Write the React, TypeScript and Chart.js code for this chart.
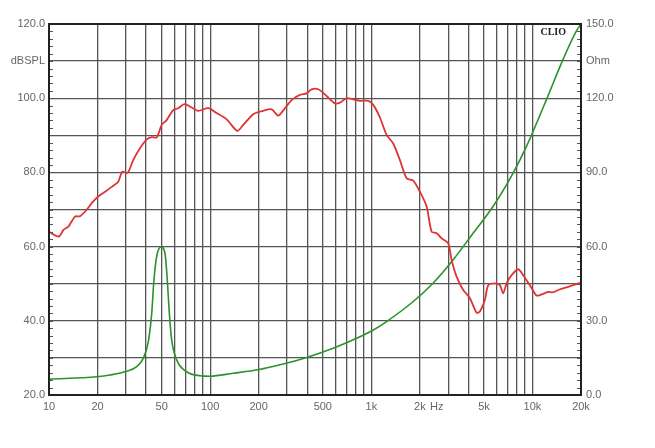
import React, { useEffect, useRef } from "react";
import { Chart, registerables } from "chart.js";
Chart.register(...registerables);

// SPL response (left axis, dB)
const splFreq = [10, 11.5, 12.3, 13.2, 14.5, 15.6, 17.1, 18.4, 20.2, 22.3, 24.5, 26.9, 28.5, 30.8, 33.3, 36.7, 40.4, 43.4, 46.6, 50, 53.7, 59, 63.4, 69.1, 76.8, 84.4, 97.3, 109.7, 126.6, 147.3, 160.5, 185.1, 213.5, 240.7, 264.5, 291.1, 320.3, 360.6, 396.8, 426.2, 468.5, 528, 594.6, 638.7, 702.9, 772.3, 850.2, 957, 1028, 1131, 1244, 1367, 1505, 1656, 1820, 2002, 2203, 2367, 2542, 2730, 3000, 3149, 3382, 3717, 4090, 4500, 4718, 5066, 5311, 5845, 6278, 6580, 6908, 7418, 8154, 8756, 9636, 10603, 11390, 12514, 13440, 14791, 16280, 17880, 20000];
const splDb = [64.0, 62.7, 64.5, 65.4, 68.1, 68.2, 69.9, 71.7, 73.5, 74.8, 76.1, 77.5, 80.2, 79.9, 83.3, 86.5, 88.9, 89.5, 89.4, 92.8, 94.1, 96.8, 97.3, 98.4, 97.5, 96.6, 97.3, 96.0, 94.3, 91.2, 92.8, 95.7, 96.6, 97.0, 95.3, 97.3, 99.5, 100.9, 101.3, 102.4, 102.4, 100.6, 98.6, 98.8, 100.0, 99.7, 99.3, 99.3, 98.2, 94.8, 90.1, 87.8, 83.3, 78.4, 77.8, 74.8, 70.8, 64.0, 63.6, 62.2, 60.9, 56.4, 51.9, 48.3, 46.1, 42.2, 42.5, 45.6, 49.6, 50.1, 49.6, 47.4, 50.1, 52.3, 53.9, 52.3, 49.6, 46.8, 47.1, 47.8, 47.7, 48.5, 49.0, 49.6, 50.3];

// Impedance (right axis, Ohm)
const impFreq = [10, 19.8, 23.9, 30.3, 35.0, 38.5, 41.3, 43.4, 44.8, 46.6, 49.5, 52.4, 54.2, 55.8, 57.7, 62.0, 71.5, 86.5, 99.7, 139, 198, 284, 397, 580, 772, 1028, 1244, 1820, 2421, 3221, 4288, 5705, 7591, 9192, 12233, 15504, 18775, 20000];
const impOhm = [6.4, 7.4, 8.1, 9.6, 11.5, 14.9, 21.5, 33.1, 46.6, 56.1, 59.9, 57.4, 46.6, 33.1, 22.3, 14.2, 9.4, 7.8, 7.6, 8.8, 10.2, 12.5, 15.2, 18.9, 22.3, 26.3, 29.7, 37.8, 45.3, 54.7, 65.5, 76.3, 89.8, 100.6, 119.6, 135.8, 147.3, 150];

const xTickValues = [10, 20, 30, 40, 50, 60, 70, 80, 90, 100, 200, 300, 400, 500, 600, 700, 800, 900, 1000, 2000, 2550, 3000, 4000, 5000, 6000, 7000, 8000, 9000, 10000, 20000];
const xTickLabels: Record<number, string> = {
  10: "10", 20: "20", 50: "50", 100: "100", 200: "200", 500: "500",
  1000: "1k", 2000: "2k", 2550: "Hz", 5000: "5k", 10000: "10k", 20000: "20k",
};
const hzTick = 2550;

const decor = {
  id: "decor",
  afterDraw(chart: any) {
    const { ctx, chartArea, scales } = chart;
    const { left, right, top, bottom } = chartArea;
    ctx.save();
    ctx.strokeStyle = "#555";
    ctx.lineWidth = 1;
    for (let v = 20; v <= 120; v += 2) {
      const y = Math.round(scales.y.getPixelForValue(v)) + 0.5;
      ctx.beginPath();
      ctx.moveTo(left, y);
      ctx.lineTo(left + 4, y);
      ctx.stroke();
    }
    for (let v = 0; v <= 150; v += 3) {
      const y = Math.round(scales.y1.getPixelForValue(v)) + 0.5;
      ctx.beginPath();
      ctx.moveTo(right - 4, y);
      ctx.lineTo(right, y);
      ctx.stroke();
    }
    ctx.strokeStyle = "#222";
    ctx.lineWidth = 2;
    ctx.strokeRect(left, top, right - left, bottom - top);
    ctx.font = 'bold 10px "Liberation Serif"';
    ctx.fillStyle = "#222";
    ctx.textAlign = "right";
    ctx.textBaseline = "middle";
    ctx.fillText("CLIO", right - 15, top + 8);
    ctx.restore();
  },
};

export default function App() {
  const ref = useRef<HTMLCanvasElement | null>(null);
  useEffect(() => {
    if (!ref.current) return;
    const font = { family: '"Liberation Sans", Arial, sans-serif', size: 11 };
    const gridColor = "#555";
    const chart = new Chart(ref.current, {
      type: "line",
      data: {
        datasets: [
          {
            label: "SPL",
            data: splFreq.map((f, i) => ({ x: f, y: splDb[i] })),
            borderColor: "#e03434",
            borderWidth: 1.8,
            pointRadius: 0,
            tension: 0.25,
            yAxisID: "y",
          },
          {
            label: "Impedance",
            data: impFreq.map((f, i) => ({ x: f, y: impOhm[i] })),
            borderColor: "#2a932a",
            borderWidth: 1.6,
            pointRadius: 0,
            cubicInterpolationMode: "monotone",
            yAxisID: "y1",
          },
        ],
      },
      options: {
        animation: false,
        responsive: false,
        maintainAspectRatio: false,
        layout: { padding: { top: 24, left: 0, right: 0, bottom: 0 } },
        plugins: { legend: { display: false }, tooltip: { enabled: false } },
        scales: {
          x: {
            type: "logarithmic",
            min: 10,
            max: 20000,
            afterBuildTicks: (s: any) => {
              s.ticks = xTickValues.map((v) => ({ value: v }));
            },
            afterFit: (s: any) => {
              s.height = 53;
            },
            ticks: {
              autoSkip: false,
              maxRotation: 0,
              padding: 5,
              color: "#666",
              font,
              callback: (v: any) => xTickLabels[Number(v)] ?? "",
            },
            grid: {
              drawTicks: false,
              lineWidth: 1.3,
              color: (c: any) => (c.tick && c.tick.value === hzTick ? "rgba(0,0,0,0)" : gridColor),
            },
            border: { display: false },
          },
          y: {
            position: "left",
            min: 20,
            max: 120,
            afterBuildTicks: (s: any) => {
              const t = [];
              for (let v = 20; v <= 120; v += 10) t.push({ value: v });
              s.ticks = t;
            },
            afterFit: (s: any) => {
              s.width = 49;
            },
            ticks: {
              padding: 4,
              color: "#666",
              font,
              callback: (v: any) => (v === 110 ? "dBSPL" : v % 20 === 0 ? Number(v).toFixed(1) : ""),
            },
            grid: { drawTicks: false, lineWidth: 1.3, color: gridColor },
            border: { display: false },
          },
          y1: {
            position: "right",
            min: 0,
            max: 150,
            afterBuildTicks: (s: any) => {
              const t = [];
              for (let v = 0; v <= 150; v += 15) t.push({ value: v });
              s.ticks = t;
            },
            afterFit: (s: any) => {
              s.width = 74;
            },
            ticks: {
              padding: 5,
              color: "#666",
              font,
              callback: (v: any) => (v === 135 ? "Ohm" : v % 30 === 0 ? Number(v).toFixed(1) : ""),
            },
            grid: { display: false, drawTicks: false },
            border: { display: false },
          },
        },
      },
      plugins: [decor],
    } as any);
    return () => chart.destroy();
  }, []);
  return (
    <div style={{ position: "absolute", left: 0, top: 0, width: 655, height: 448, background: "#fff" }}>
      <canvas ref={ref} width={655} height={448} style={{ display: "block" }} />
    </div>
  );
}
